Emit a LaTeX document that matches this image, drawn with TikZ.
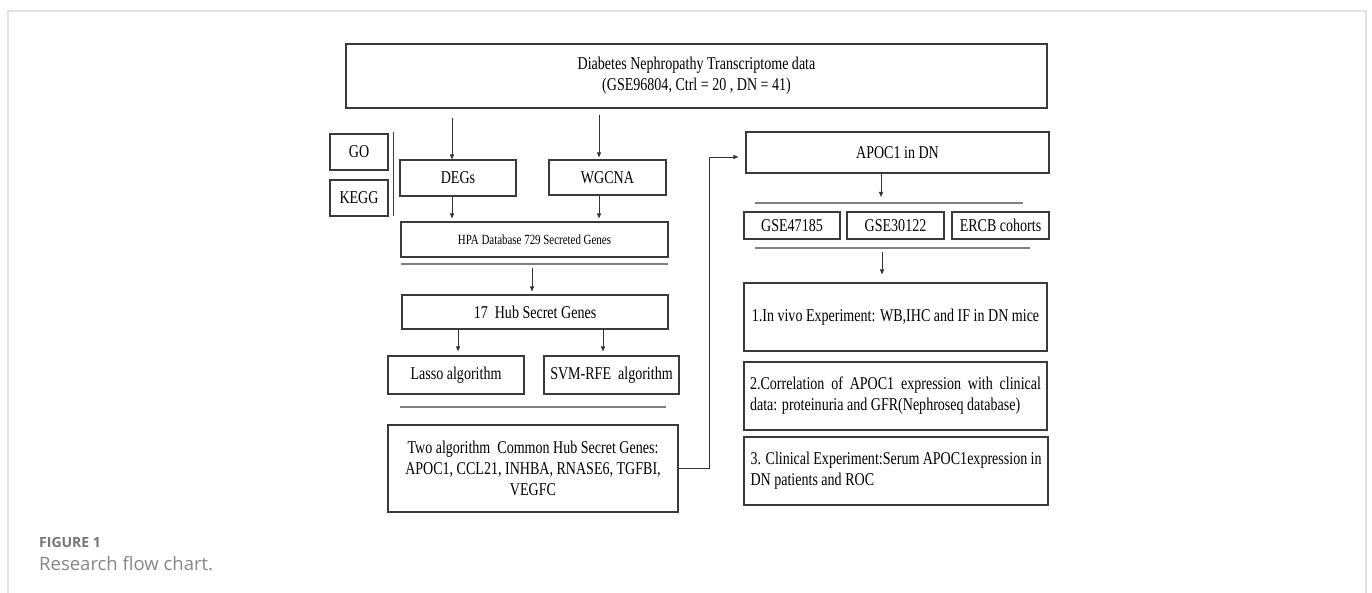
\documentclass[tikz,border=0pt]{standalone}
\usepackage{fontspec}
\setmainfont{Liberation Serif}
\newfontfamily\boxfont[FakeStretch=0.78]{Liberation Serif}
\newfontfamily\capfont{Open Sans}
\usetikzlibrary{arrows.meta,calc}
\definecolor{boxline}{HTML}{3A3A3A}
\definecolor{arrline}{HTML}{333333}
\definecolor{sepline}{HTML}{808080}
\definecolor{framegray}{HTML}{E3E3E3}
\definecolor{capgray}{HTML}{767676}
\definecolor{titlegray}{HTML}{868686}

\begin{document}
\begin{tikzpicture}[x=1pt,y=-1pt,
  box/.style={draw=boxline, line width=1.1pt, inner sep=0pt, align=center,
    font=\boxfont\fontsize{18}{21}\selectfont},
  smallbox/.style={box, font=\boxfont\fontsize{14}{17}\selectfont},
  parbox/.style={box, text width=291pt, align=justify},
  arr/.style={draw=arrline, line width=0.9pt, -{Triangle[length=5pt,width=4pt]}},
  sep/.style={draw=sepline, line width=1.4pt},
  frame/.style={draw=framegray, line width=1.5pt},
]
\useasboundingbox (0,0) rectangle (1372,593);

% outer panel frame (open at the bottom)
\coordinate (fbl) at (8,593);
\coordinate (ftl) at (8,11);
\coordinate (ftr) at (1366,11);
\coordinate (fbr) at (1366,593);
\draw[frame] (fbl) -- (ftl) -- (ftr) -- (fbr);

% ---------- left column ----------
\node[box, minimum width=701pt, minimum height=64pt] (top) at (696.5,76)
  {Diabetes Nephropathy Transcriptome data\\(GSE96804, Ctrl = 20 , DN = 41)};

\node[box, minimum width=58pt, minimum height=36pt] (go) at (359,152) {GO};
\node[box, minimum width=58pt, minimum height=36pt] (kegg) at (359,198) {KEGG};
\coordinate (enrA) at (393,132);
\coordinate (enrB) at (393,216);
\draw[draw=boxline, line width=1pt] (enrA) -- (enrB);

\node[box, minimum width=116pt, minimum height=36pt] (degs) at (458,178) {DEGs};
\node[box, minimum width=117pt, minimum height=35pt] (wgcna) at (607.5,177.5) {WGCNA};

\node[smallbox, minimum width=267pt, minimum height=35pt] (hpa) at (534.5,239.5)
  {HPA Database 729 Secreted Genes};

\coordinate (s1a) at (401,264);
\coordinate (s1b) at (668,264);
\draw[sep] (s1a) -- (s1b);

\node[box, minimum width=266pt, minimum height=34pt] (hub) at (535,312)
  {17\ \ Hub Secret Genes};

\node[box, minimum width=136pt, minimum height=38pt] (lasso) at (456,375) {Lasso algorithm};
\node[box, minimum width=135pt, minimum height=38pt] (svm) at (611.5,375) {SVM-RFE\ \ algorithm};

\coordinate (s2a) at (400,407);
\coordinate (s2b) at (666,407);
\draw[sep] (s2a) -- (s2b);

\node[box, minimum width=290pt, minimum height=87pt] (two) at (533,468.5)
  {Two algorithm\ \ Common Hub Secret Genes:\\APOC1, CCL21, INHBA, RNASE6, TGFBI,\\VEGFC};

% ---------- right column ----------
\node[box, minimum width=303pt, minimum height=41pt] (apoc) at (897.5,152.5) {APOC1 in DN};

\coordinate (s3a) at (755,203);
\coordinate (s3b) at (1023,203);
\draw[sep] (s3a) -- (s3b);

\node[box, minimum width=96pt, minimum height=27pt] (gsea) at (792,225.5) {GSE47185};
\node[box, minimum width=97pt, minimum height=27pt] (gseb) at (895.5,225.5) {GSE30122};
\node[box, minimum width=97pt, minimum height=27pt] (ercb) at (1000.5,225.5) {ERCB cohorts};

\coordinate (s4a) at (755,248);
\coordinate (s4b) at (1030,248);
\draw[sep] (s4a) -- (s4b);

\node[box, minimum width=303pt, minimum height=68pt] (exa) at (895.5,317)
  {1.In vivo Experiment: WB,IHC and IF in DN mice};
\node[parbox, minimum width=303pt, minimum height=68pt] (exb) at (895.5,396)
  {2.Correlation of APOC1 expression with clinical\linebreak data: proteinuria and GFR(Nephroseq database)};
\node[parbox, minimum width=304pt, minimum height=68pt] (exc) at (896,471)
  {3. Clinical Experiment:Serum APOC1expression in\linebreak DN patients and ROC};

% ---------- connectors ----------
\draw[arr, shorten <=9pt] ([xshift=-6pt]degs.north |- top.south) -- ([xshift=-6pt]degs.north);
\draw[arr, shorten <=6pt, shorten >=2pt] ([xshift=-8.5pt]wgcna.north |- top.south) -- ([xshift=-8.5pt]wgcna.north);
\draw[arr, shorten >=3pt] ([xshift=-6pt]degs.south) -- ([xshift=-6pt]degs.south |- hpa.north);
\draw[arr, shorten >=3pt] ([xshift=-8.5pt]wgcna.south) -- ([xshift=-8.5pt]wgcna.south |- hpa.north);
\draw[arr, shorten <=4pt, shorten >=3pt] ([xshift=-3pt]hub.north |- s1a) -- ([xshift=-3pt]hub.north);
\draw[arr, shorten >=4pt] ([xshift=2pt]lasso.north |- hub.south) -- ([xshift=2pt]lasso.north);
\draw[arr, shorten >=4pt] ([xshift=-8.5pt]svm.north |- hub.south) -- ([xshift=-8.5pt]svm.north);

\draw[arr, shorten >=7pt] (two.east) -| ([xshift=-36pt,yshift=-4.5pt]apoc.west) -- ([yshift=-4.5pt]apoc.west);

\draw[arr, shorten >=6pt] ([xshift=-16.5pt]apoc.south) -- ([xshift=-16.5pt]apoc.south |- s3a);
\draw[arr, shorten <=4pt, shorten >=8pt] ([xshift=-13.5pt]exa.north |- s4a) -- ([xshift=-13.5pt]exa.north);

% ---------- caption ----------
\node[anchor=west, inner sep=0pt, text=capgray, font=\capfont\bfseries\fontsize{14}{16}\selectfont] (figlabel) at (39,542) {FIGURE 1};
\node[anchor=west, inner sep=0pt, text=titlegray, font=\capfont\fontsize{18.5}{21}\selectfont] (figtitle) at (39,564) {Research flow chart.};
\end{tikzpicture}
\end{document}
